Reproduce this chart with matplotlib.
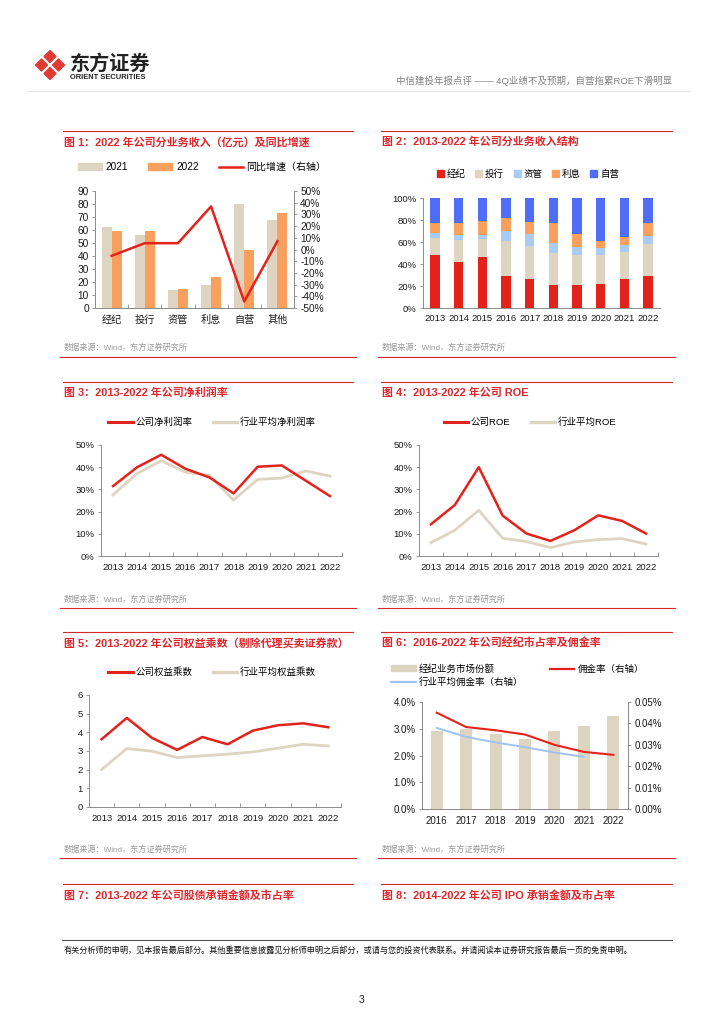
import matplotlib
matplotlib.use("Agg")
import matplotlib.pyplot as plt
import numpy as np
from matplotlib.lines import Line2D
from matplotlib.patches import Patch, Polygon

plt.rcParams["font.family"] = ["Liberation Sans", "Noto Sans CJK SC", "DejaVu Sans"]
plt.rcParams["axes.unicode_minus"] = False

# colours
RED = "#E3231B"
BEIGE = "#DDD5C1"
ORANGE = "#F9A05E"
LBLUE = "#A9CBF5"
BLUE = "#4F6EF5"
AXIS = "#8C8C8C"
TITLE_RED = "#E0262B"
RULE_RED = "#D9262C"

# Figure 1: revenue by segment (100m yuan) and yoy growth
SEGMENTS = ["经纪", "投行", "资管", "利息", "自营", "其他"]
REV_2021 = [62, 56, 14, 17.5, 80, 68]
REV_2022 = [59, 59, 14.5, 24, 45, 73]
REV_YOY = [-5.4, 5.4, 5.4, 36.8, -44.4, 7.1]

# Figure 2: revenue mix 2013-2022 (%)
YEARS = ["2013", "2014", "2015", "2016", "2017", "2018", "2019", "2020", "2021", "2022"]
MIX_NAMES = ["经纪", "投行", "资管", "利息", "自营"]
MIX_BROKER = [47.9, 41.9, 46.1, 29.2, 26.5, 20.8, 20.5, 21.4, 26.5, 29.2]
MIX_IB = [15.7, 20.1, 16.2, 31.6, 29.8, 28.9, 27.4, 26.5, 24.7, 29.2]
MIX_AM = [4.2, 4.0, 3.7, 8.8, 10.6, 9.0, 7.8, 6.6, 6.0, 7.0]
MIX_INTEREST = [9.6, 11.4, 12.9, 12.0, 11.7, 18.7, 11.5, 6.0, 7.6, 12.0]
MIX_PROP = [22.6, 22.6, 21.1, 18.4, 21.4, 22.6, 32.8, 39.5, 35.2, 22.6]

# Figure 3: net margin (%)
MARGIN_CO = [31.5, 40.0, 45.6, 39.3, 35.4, 28.2, 40.2, 40.8, 33.9, 27.0]
MARGIN_IND = [27.6, 37.2, 42.9, 37.8, 36.3, 25.2, 34.5, 35.1, 38.3, 36.0]

# Figure 4: ROE (%)
ROE_CO = [14.3, 23.0, 40.0, 18.2, 10.1, 6.8, 11.6, 18.3, 15.8, 10.1]
ROE_IND = [6.0, 11.6, 20.6, 8.0, 6.5, 3.8, 6.3, 7.4, 7.8, 5.4]

# Figure 5: equity multiplier
LEV_CO = [3.63, 4.77, 3.70, 3.06, 3.75, 3.36, 4.09, 4.38, 4.48, 4.27]
LEV_IND = [2.01, 3.13, 2.99, 2.65, 2.74, 2.83, 2.95, 3.15, 3.36, 3.27]

# Figure 6: brokerage market share (%) and commission rate (%)
BRK_YEARS = ["2016", "2017", "2018", "2019", "2020", "2021", "2022"]
BRK_SHARE = [2.91, 2.99, 2.82, 2.61, 2.93, 3.12, 3.49]
COMM_CO = [0.0450, 0.0383, 0.0368, 0.0348, 0.0300, 0.0267, 0.0253]
COMM_IND = [0.0379, 0.0337, 0.0311, 0.0289, 0.0264, 0.0244]

TITLES = [
    "图 1：2022 年公司分业务收入（亿元）及同比增速",
    "图 2：2013-2022 年公司分业务收入结构",
    "图 3：2013-2022 年公司净利润率",
    "图 4：2013-2022 年公司 ROE",
    "图 5：2013-2022 年公司权益乘数（剔除代理买卖证券款）",
    "图 6：2016-2022 年公司经纪市占率及佣金率",
    "图 7：2013-2022 年公司股债承销金额及市占率",
    "图 8：2014-2022 年公司 IPO 承销金额及市占率",
]
SOURCE = "数据来源：Wind，东方证券研究所"

W, H = 724, 1024
fig = plt.figure(figsize=(W / 100, H / 100), dpi=100)
fig.patch.set_facecolor("white")

# page-level drawing layer in pixel coordinates
bg = fig.add_axes([0, 0, 1, 1])
bg.set_xlim(0, W)
bg.set_ylim(H, 0)
bg.axis("off")


def panel(x0, y0, x1, y1):
    return fig.add_axes([x0 / W, 1 - y1 / H, (x1 - x0) / W, (y1 - y0) / H])


def style(ax, keep_right=False, size=6.8):
    ax.spines["top"].set_visible(False)
    if not keep_right:
        ax.spines["right"].set_visible(False)
    for sp in ax.spines.values():
        sp.set_color(AXIS)
        sp.set_linewidth(0.7)
    ax.tick_params(labelsize=size, colors="#1a1a1a", length=2.5, width=0.6, color=AXIS, pad=2)


def cat_axis(ax, labels, pad=4):
    n = len(labels)
    ax.set_xlim(-0.5, n - 0.5)
    ax.set_xticks(np.arange(n))
    ax.set_xticklabels(labels)
    ax.set_xticks(np.arange(n + 1) - 0.5, minor=True)
    ax.tick_params(axis="x", which="major", length=0, pad=pad)
    ax.tick_params(axis="x", which="minor", length=3, direction="in", color=AXIS, width=0.6)


def legend(handles, labels, x, y, loc="center", ncol=None, size=6.8, **kw):
    return fig.legend(handles, labels, loc=loc, bbox_to_anchor=(x, y),
                      bbox_transform=bg.transData, ncol=ncol or len(handles),
                      frameon=False, fontsize=size, borderaxespad=0, borderpad=0, **kw)


# ---------------- header ----------------
for dx, dy in [(0, -8.5), (8.5, 0), (0, 8.5), (-8.5, 0)]:
    cx, cy, r = 50 + dx, 65 + dy, 5.8
    bg.add_patch(Polygon([(cx, cy - r), (cx + r, cy), (cx, cy + r), (cx - r, cy)],
                         closed=True, facecolor="#E03A33", edgecolor="#E03A33",
                         linewidth=1.2, joinstyle="round"))
bg.text(69.5, 63.5, "东方证券", fontsize=14.5, fontweight="bold", color="#222",
        va="center", ha="left", family=["Noto Sans CJK SC"])
bg.text(70.5, 77.5, "ORIENT SECURITIES", fontsize=5.4, fontweight="bold", color="#222",
        va="center", ha="left")
bg.text(672, 81, "中信建投年报点评 —— 4Q业绩不及预期，自营拖累ROE下滑明显",
        fontsize=6.8, color="#808080", ha="right", va="center")
bg.plot([27, 690], [91, 91], color="#E6E6E6", lw=0.8)

# ---------------- panel frames ----------------
COLS = [(63, 353), (381, 672)]
TOPS = [131, 382, 632, 884]
BOTTOMS = [357, 608, 858]
SRC_Y = [348, 600, 850]
for r, top in enumerate(TOPS):
    for c, (xl, xr) in enumerate(COLS):
        bg.plot([xl, xr], [top, top], color=RULE_RED, lw=0.8)
        bg.text(xl + 1, top + 11, TITLES[r * 2 + c], fontsize=7.9, fontweight="bold",
                color=TITLE_RED, ha="left", va="center")
        if r < 3:
            bg.plot([xl - 3, xr + 3], [BOTTOMS[r], BOTTOMS[r]], color=RULE_RED, lw=0.8)
            bg.text(xl + 1, SRC_Y[r], SOURCE, fontsize=5.9, color="#9A9A9A",
                    ha="left", va="center")

# ---------------- figure 1 ----------------
ax1 = panel(95, 191, 294, 308)
x = np.arange(len(SEGMENTS))
ax1.bar(x - 0.15, REV_2021, 0.3, color=BEIGE, zorder=2)
ax1.bar(x + 0.15, REV_2022, 0.3, color=ORANGE, zorder=2)
ax1.set_ylim(0, 90)
ax1.set_yticks(np.arange(0, 91, 10))
style(ax1, keep_right=True, size=7.3)
cat_axis(ax1, SEGMENTS, pad=5)
ax1r = ax1.twinx()
ax1r.plot(x, REV_YOY, color=RED, lw=1.8, zorder=3)
ax1r.set_ylim(-50, 50)
ax1r.set_yticks(np.arange(-50, 51, 10))
ax1r.set_yticklabels([f"{v}%" for v in range(-50, 51, 10)])
style(ax1r, keep_right=True, size=7.3)
legend([Patch(color=BEIGE), Patch(color=ORANGE), Line2D([], [], color=RED, lw=1.8)],
       ["2021", "2022", "同比增速（右轴）"], 202, 167, size=7.2,
       handlelength=2.4, handleheight=0.6, handletextpad=0.4, columnspacing=2.0)

# ---------------- figure 2 ----------------
ax2 = panel(423, 198, 660, 308)
x = np.arange(len(YEARS))
bottom = np.zeros(len(YEARS))
mix_handles = []
for vals, col in zip([MIX_BROKER, MIX_IB, MIX_AM, MIX_INTEREST, MIX_PROP],
                     [RED, BEIGE, LBLUE, ORANGE, BLUE]):
    ax2.bar(x, vals, 0.4, bottom=bottom, color=col, zorder=2)
    bottom += np.array(vals)
    mix_handles.append(Patch(color=col))
ax2.set_ylim(0, 100)
ax2.set_yticks(np.arange(0, 101, 20))
ax2.set_yticklabels([f"{v}%" for v in range(0, 101, 20)])
style(ax2)
cat_axis(ax2, YEARS, pad=4)
ax2.tick_params(axis="x", which="minor", length=0)
legend(mix_handles, MIX_NAMES, 528, 174,
       handlelength=0.75, handleheight=0.75, handletextpad=0.3, columnspacing=1.0)


def line_panel(rect, co, ind, ymax, step, fmt, labels, lx):
    ax = panel(*rect)
    xs = np.arange(len(YEARS))
    ax.plot(xs, ind, color=BEIGE, lw=2.0, zorder=2)
    ax.plot(xs, co, color=RED, lw=1.8, zorder=3)
    ax.set_ylim(0, ymax)
    ticks = np.arange(0, ymax + step / 2, step)
    ax.set_yticks(ticks)
    ax.set_yticklabels([fmt(t) for t in ticks])
    style(ax)
    cat_axis(ax, YEARS, pad=5)
    legend([Line2D([], [], color=RED, lw=2.2), Line2D([], [], color=BEIGE, lw=2.4)],
           labels, lx, rect[1] - 23, handlelength=2.6, handletextpad=0.25, columnspacing=2.2)
    return ax


pct = lambda t: f"{t:.0f}%"
line_panel((101, 445, 342, 556), MARGIN_CO, MARGIN_IND, 50, 10, pct,
           ["公司净利润率", "行业平均净利润率"], 212)
line_panel((419, 445, 658, 556), ROE_CO, ROE_IND, 50, 10, pct,
           ["公司ROE", "行业平均ROE"], 530)
line_panel((89, 695, 341, 807), LEV_CO, LEV_IND, 6, 1, lambda t: f"{t:.0f}",
           ["公司权益乘数", "行业平均权益乘数"], 212)

# ---------------- figure 6 ----------------
ax6 = panel(422, 702, 628, 809)
x = np.arange(len(BRK_YEARS))
ax6.bar(x, BRK_SHARE, 0.41, color=BEIGE, zorder=2)
ax6.set_ylim(0, 4)
ax6.set_yticks(np.arange(0, 4.01, 1))
ax6.set_yticklabels([f"{v:.1f}%" for v in np.arange(0, 4.01, 1)])
style(ax6, keep_right=True, size=7.0)
cat_axis(ax6, BRK_YEARS, pad=5)
ax6.tick_params(axis="x", which="minor", length=0)
ax6r = ax6.twinx()
ax6r.plot(x[:len(COMM_IND)], COMM_IND, color="#9EC3F2", lw=1.4, zorder=3)
ax6r.plot(x, COMM_CO, color=RED, lw=1.5, zorder=3)
ax6r.set_ylim(0, 0.05)
ax6r.set_yticks(np.arange(0, 0.0501, 0.01))
ax6r.set_yticklabels([f"{v:.2f}%" for v in np.arange(0, 0.0501, 0.01)])
style(ax6r, keep_right=True, size=7.0)
legend([Patch(color=BEIGE), Line2D([], [], color="#9EC3F2", lw=1.6),
        Line2D([], [], color=RED, lw=1.6)],
       ["经纪业务市场份额", "行业平均佣金率（右轴）", "佣金率（右轴）"], 391, 664,
       loc="upper left", ncol=2, handlelength=2.6, handleheight=0.6,
       handletextpad=0.35, columnspacing=2.8, labelspacing=0.35)

# ---------------- footer ----------------
bg.plot([62, 672], [940, 940], color="#555555", lw=0.8)
bg.text(64, 950, "有关分析师的申明，见本报告最后部分。其他重要信息披露见分析师申明之后部分，"
        "或请与您的投资代表联系。并请阅读本证券研究报告最后一页的免责申明。",
        fontsize=5.9, color="#111", ha="left", va="center")
bg.text(362, 1000, "3", fontsize=7.5, color="#222", ha="center", va="center")

fig.savefig("out.png", dpi=100, facecolor="white")
